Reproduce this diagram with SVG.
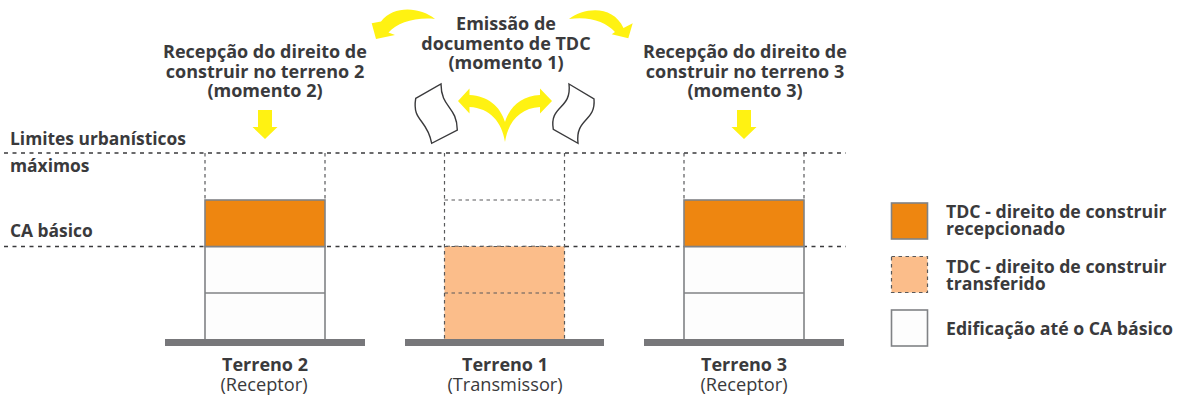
<svg xmlns="http://www.w3.org/2000/svg" width="1180" height="398" viewBox="0 0 1180 398">
<style>
text{font-family:"Open Sans","Noto Sans","Liberation Sans",sans-serif;fill:#3a3a3c}
.b{font-weight:700;font-size:18px}
.c{text-anchor:middle}
.r{font-size:18.2px;font-weight:400}
.l{font-weight:700;font-size:17.4px}
.k{font-weight:700;font-size:17.7px}
.d{fill:none;stroke:#58595b;stroke-width:1.2;stroke-dasharray:3.5 3.5}
.dl{fill:none;stroke:#3a3a3c;stroke-width:1.3;stroke-dasharray:4 4.5}
.s{stroke:#808285;stroke-width:1.6}
.o{fill:#ee8610}
.p{fill:#fbbd8a}
.w{fill:#fdfdfd}
.g{fill:#77777a}
.y{fill:#fff212}
.doc{fill:#fff;stroke:#3a3a3c;stroke-width:1.4}
</style>
<g id="limits">
<line class="dl" x1="4" y1="153" x2="846" y2="153"/>
<line class="dl" x1="4" y1="246.500" x2="846" y2="246.500"/>
<text class="l" x="10" y="145">Limites urbanísticos</text>
<text class="l" x="10" y="172">máximos</text>
<text class="l" x="10" y="237">CA básico</text>
</g>
<g id="terreno2">
<rect class="w s" x="205" y="246.500" width="120" height="94"/>
<line class="s" x1="205" y1="293" x2="325" y2="293"/>
<path class="d" d="M205 153V200M325 153V200"/>
<rect class="o s" x="205" y="200" width="120" height="46.500"/>
<rect class="g" x="165" y="339" width="200" height="7"/>
<text class="b c" x="265" y="371">Terreno 2</text>
<text class="r c" x="264" y="391">(Receptor)</text>
<text class="b c" x="265" y="58">Recepção do direito de</text>
<text class="b c" x="265" y="78">construir no terreno 2</text>
<text class="b c" x="265" y="97">(momento 2)</text>
<path class="y" d="M258 110H272V127H277.500L265 139L252.500 127H258Z"/>
</g>
<g id="terreno1">
<rect class="p" x="444.500" y="246.500" width="120" height="94"/>
<path class="d" d="M444.500 153V340M564.500 153V340M444.500 200H564.500M444.500 293H564.500M444.500 340H564.500M444.500 246.500H564.500"/>
<rect class="g" x="405" y="339" width="199" height="7"/>
<text class="b c" x="505" y="371">Terreno 1</text>
<text class="r c" x="505" y="391">(Transmissor)</text>
<text class="b c" x="506" y="30">Emissão de</text>
<text class="b c" x="506" y="49.500">documento de TDC</text>
<text class="b c" x="506" y="69">(momento 1)</text>
<path class="doc" d="M415.700 98.300L441 84C441 108 457 106 457.300 130L431.700 143.300C427 118 412 122 415.700 98.300Z"/>
<path class="doc" d="M569 84L594 99C596 122 575 118 578 143.300L553.300 129.300C549 105 572 110 569 84Z"/>
<path class="y" d="M505 142C502 122 490 108 469.500 107V113.500L458 101L469.500 88.500V95C488 96 500 106 505 122C510 106 522 96 540 95V88.500L552 101L540 113.500V107C520 108 508 122 505 142Z"/>
<path class="y" d="M435 19C420 7 394 5 381 21.500L371.700 23.300L376 39L395 35L388.500 32.500C397 23 415 17 435 19Z"/>
<path class="y" d="M569 19C585 7 613 5 623.500 28L632.700 23.300L628.300 38.300L611.700 34.300L615 32C606 22 590 16 569 19Z"/>
</g>
<g id="terreno3">
<rect class="w s" x="684" y="246.500" width="120" height="94"/>
<line class="s" x1="684" y1="293" x2="804" y2="293"/>
<path class="d" d="M684 153V200M804 153V200"/>
<rect class="o s" x="684" y="200" width="120" height="46.500"/>
<rect class="g" x="644" y="339" width="200" height="7"/>
<text class="b c" x="744" y="371">Terreno 3</text>
<text class="r c" x="744" y="391">(Receptor)</text>
<text class="b c" x="745" y="58">Recepção do direito de</text>
<text class="b c" x="745" y="78">construir no terreno 3</text>
<text class="b c" x="745" y="97">(momento 3)</text>
<path class="y" d="M737 110H751V127H756.500L744 139L731.500 127H737Z"/>
</g>
<g id="legend">
<rect class="o s" x="891.500" y="203" width="36" height="36"/>
<rect class="p" x="891.500" y="256.500" width="36" height="36"/>
<rect class="d" x="891.500" y="256.500" width="36" height="36"/>
<rect class="w s" x="891.500" y="310" width="36" height="36"/>
<text class="k" x="946" y="218">TDC - direito de construir</text>
<text class="k" x="946" y="235">recepcionado</text>
<text class="k" x="946" y="273">TDC - direito de construir</text>
<text class="k" x="946" y="290">transferido</text>
<text class="k" x="946" y="335">Edificação até o CA básico</text>
</g>
</svg>
